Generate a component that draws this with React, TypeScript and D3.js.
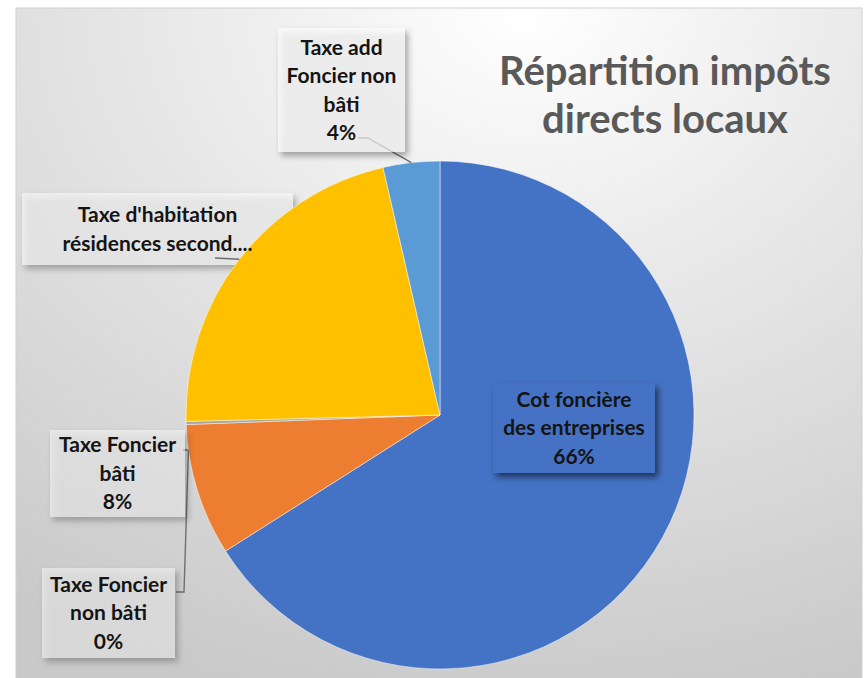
import * as d3 from 'd3';
import { useMemo } from 'react';

const categories = [
  'Cot foncière des entreprises',
  'Taxe Foncier bâti',
  'Taxe Foncier non bâti',
  "Taxe d'habitation résidences secondaires",
  'Taxe add Foncier non bâti',
];
const shares = [66.0, 8.4, 0.2, 21.8, 3.6];
const labelLines = [
  ['Cot foncière', 'des entreprises'],
  ['Taxe Foncier', 'bâti'],
  ['Taxe Foncier', 'non bâti'],
  ["Taxe d'habitation", 'résidences second....'],
  ['Taxe add', 'Foncier non', 'bâti'],
];
const showPct = [true, true, true, false, true];
const colors = ['#4472C4', '#ED7D31', '#A5A5A5', '#FFC000', '#5B9BD5'];
const titleLines = ['Répartition impôts', 'directs locaux'];

// label boxes (behind = drawn under the pie)
const boxes = [
  { x: 493, y: 383, w: 162, h: 90, fill: '#4472C4', behind: false },
  { x: 50, y: 430, w: 135, h: 87, fill: 'rgba(255,255,255,0.45)', behind: false },
  { x: 42, y: 568, w: 133, h: 90, fill: 'rgba(255,255,255,0.45)', behind: false },
  { x: 22, y: 193, w: 271, h: 72, fill: 'rgba(255,255,255,0.5)', behind: true },
  { x: 278, y: 28, w: 127, h: 124, fill: 'rgba(255,255,255,0.6)', behind: false },
];
// where along the slice (0..1) each leader touches the rim
const anchorFrac = [0.5, 0.81, -1, 0.5, 0.5];
const leaderStart: ([number, number][] | null)[] = [
  null,
  [[183, 450]],
  [[176, 592], [184, 592]],
  [[215, 258]],
  [[358, 138], [368, 138]],
];

const W = 865;
const H = 678;
const cx = 440;
const cy = 415;
const r = 254;
const font = 'Lato, "Liberation Sans", sans-serif';

export default function App() {
  const arcs = useMemo(
    () => d3.pie<number>().sort(null).value((d) => d)(shares),
    []
  );
  const arc = d3.arc<d3.PieArcDatum<number>>().innerRadius(0).outerRadius(r);

  const rimPoint = (a: number): [number, number] => [
    cx + r * Math.sin(a),
    cy - r * Math.cos(a),
  ];
  const anchors = arcs.map((a, i) => {
    const f = anchorFrac[i] < 0 ? anchorFrac[1] : anchorFrac[i];
    const src = anchorFrac[i] < 0 ? arcs[1] : a;
    return rimPoint(src.startAngle + f * (src.endAngle - src.startAngle));
  });
  const line = d3.line();

  const boxRect = (i: number) => {
    const b = boxes[i];
    return <rect key={'r' + i} x={b.x} y={b.y} width={b.w} height={b.h} fill={b.fill} filter="url(#shadow)" />;
  };

  return (
    <svg
      width={W}
      height={H}
      style={{ position: 'absolute', left: 0, top: 0 }}
    >
      <defs>
        <radialGradient id="bg" cx="0.6" cy="0" r="1.05" fx="0.6" fy="0">
          <stop offset="0" stopColor="#ffffff" />
          <stop offset="0.45" stopColor="#e6e6e6" />
          <stop offset="1" stopColor="#c9c9c9" />
        </radialGradient>
        <filter id="shadow" x="-20%" y="-20%" width="140%" height="150%">
          <feDropShadow dx="3" dy="4" stdDeviation="3" floodColor="#000" floodOpacity="0.55" />
        </filter>
      </defs>
      <rect x={0} y={0} width={W} height={H} fill="#ffffff" />
      <rect x={16} y={8} width={846} height={H} fill="url(#bg)" stroke="#cfcfcf" />

      {boxes.map((b, i) => (b.behind ? boxRect(i) : null))}

      <g>
        {arcs.map((a, i) => (
          <path key={categories[i]} d={arc(a) ?? ''} transform={`translate(${cx},${cy})`} fill={colors[i]} stroke="#ffffff" strokeOpacity={0.6} strokeWidth={0.8} />
        ))}
      </g>

      <g fill="#595959" fontFamily={font} fontWeight={700} fontSize={40} textAnchor="middle">
        {titleLines.map((t, i) => (
          <text key={t} x={665} y={85 + i * 48}>{t}</text>
        ))}
      </g>

      {arcs.map((a, i) => {
        const s = leaderStart[i];
        if (!s) return null;
        return (
          <path key={'l' + i} d={line([...s, anchors[i]]) ?? ''} fill="none" stroke="#6f6f6f" strokeWidth={1.4} />
        );
      })}

      {arcs.map((a, i) => {
        const b = boxes[i];
        const lines = showPct[i] ? [...labelLines[i], `${Math.round(shares[i])}%`] : labelLines[i];
        const lh = 28.5;
        const top = b.y + b.h / 2 - ((lines.length - 1) * lh) / 2;
        return (
          <g key={'b' + i}>
            {b.behind ? null : boxRect(i)}
            <g fontFamily={font} fontWeight={700} fontSize={21} fill="#141414" textAnchor="middle">
              {lines.map((t, j) => (
                <text key={j} x={b.x + b.w / 2} y={top + j * lh} dy="0.35em">{t}</text>
              ))}
            </g>
          </g>
        );
      })}
    </svg>
  );
}
